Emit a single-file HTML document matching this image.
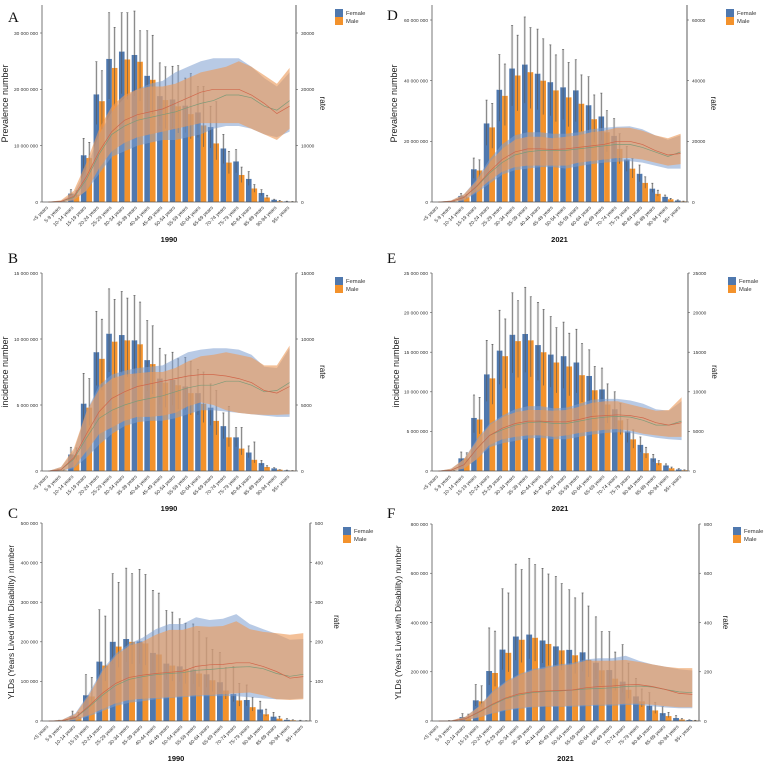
<!DOCTYPE html>
<html><head><meta charset="utf-8"><style>
html,body{margin:0;padding:0;background:#fff;}
svg{display:block;font-family:"Liberation Sans",Arial,sans-serif;}
</style></head><body>
<svg id="chart" width="767" height="767" viewBox="0 0 767 767" xmlns="http://www.w3.org/2000/svg"></svg>
<script>
const categories=["<5 years","5-9 years","10-14 years","15-19 years","20-24 years","25-29 years","30-34 years","35-39 years","40-44 years","45-49 years","50-54 years","55-59 years","60-64 years","65-69 years","70-74 years","75-79 years","80-84 years","85-89 years","90-94 years","95+ years"];
// Panel A (millions / thousands)
const aFemale=[0,0.05,1.5,8.3,19.1,25.4,26.7,26.1,22.4,18.8,18.2,17.1,15.9,13.3,9.5,7.2,4.1,1.6,0.4,0.1];
const aMale=[0,0.05,1.3,7.8,17.9,23.8,25.3,24.9,21.7,18.1,17.0,15.6,13.6,10.4,7.0,4.8,2.4,0.8,0.15,0.05];
const aFemaleUp=[0,0.1,2.2,11.3,24.9,33.6,33.6,33.9,30.4,24.7,24.1,22.0,20.5,17.0,12.0,9.3,5.4,2.2,0.5,0.15];
const aMaleUp=[0,0.1,2.0,10.6,23.3,31.0,33.6,30.4,29.6,24.0,24.2,22.8,20.5,17.8,9.0,6.2,3.1,1.2,0.3,0.1];
const aRateFLo=[0,0,0.3,2,5,8,9,10,10.5,11,11,11.5,12,13,13.5,13.5,13,12,11.5,12.5];
const aRateFHi=[0,0.2,1.5,6,12,16,18.5,20,21,21.5,23,24,25,25.5,25.5,25.5,24,22,20.5,23];
const aRateMLo=[0,0,0.3,2,6,9,10.5,11.5,12,12.5,13,13.5,14,14,14,14,13,12,11,13];
const aRateMHi=[0,0.3,2,7,13,17,19,20,20.5,20.5,21,22,23,23.5,24,25,24,22.5,21,23.8];
const aRateF=[0,0.1,0.8,4,8.5,12,13.5,14.5,15,15.5,16,16.8,17.5,18,19,19,18.5,17,16.3,18];
const aRateM=[0,0.1,1,4.5,9,12.5,14.5,15.5,16,16.5,17.5,18.5,19.5,20,20,20,19,17.5,15.7,17];
// Panel B
const bFemale=[0,0.05,1.25,5.1,9,10.4,10.3,9.9,8.4,7,6.9,6.4,5.9,4.8,3.4,2.55,1.4,0.6,0.2,0.05];
const bMale=[0,0.05,1.2,4.8,8.5,9.8,9.9,9.6,8.1,6.7,6.5,5.9,5.1,3.8,2.55,1.7,0.85,0.3,0.1,0.03];
const bFemaleUp=[0,0.1,1.8,7.4,12.1,13.8,13.6,13.3,11.4,9.3,9,8.6,7.7,6.6,4.4,3.3,1.9,0.8,0.25,0.07];
const bMaleUp=[0,0.1,1.75,7,11.5,13,13.1,12.8,11,8.8,8.5,8.3,7.5,6.1,4.9,3.3,2.2,0.4,0.1,0.04];
const bRateFLo=[0,0,0.2,1,2,2.8,3.4,3.7,3.8,3.8,4,4.3,4.6,4.6,4.5,4.4,4.3,4.2,4.1,4.1];
const bRateFHi=[0,0.3,1.5,4.5,6.5,7.3,7.6,7.8,7.9,8,8.5,9,9.2,9.3,9.3,9.2,8.8,7.9,7.8,9.3];
const bRateMLo=[0,0,0.3,1.5,2.8,3.3,3.8,4.1,4.1,4.2,4.4,4.9,5.2,5,4.6,4.4,4.3,4.25,4.25,4.3];
const bRateMHi=[0,0.3,1.7,4.5,6.2,7,7.3,7.4,7.5,7.5,7.8,8.3,8.7,8.8,9,8.8,8.6,8,8,9.5];
const bRateF=[0,0.1,0.9,2.5,4,4.6,5,5.3,5.5,5.7,6,6.3,6.5,6.5,6.8,6.8,6.5,6,6.1,6.7];
const bRateM=[0,0.1,1,2.8,4.5,5.5,6,6.4,6.6,6.8,7,7.2,7.3,7.3,7.2,7,6.7,6.1,5.9,6.4];
// Panel C (thousands / rate)
const cFemale=[0,1,12,65,150,200,207,201,172,145,138,130,118,98,68,53,29,11,3,1];
const cMale=[0,1,10,62,140,188,200,196,168,140,131,120,103,77,52,35,17,6,2,0.5];
const cFemaleUp=[0,2,25,117,281,372,386,383,330,279,258,245,210,173,138,91,50,22,6,2];
const cMaleUp=[0,2,22,110,265,350,372,370,323,275,247,226,181,135,95,60,30,12,3,1];
const cRateFLo=[0,0,2,12,25,38,46,50,55,58,60,62,63,63,63,60,57,55,55,57];
const cRateFHi=[0,3,20,70,130,170,195,210,232,245,245,262,255,258,270,245,232,220,205,207];
const cRateMLo=[0,0,3,15,30,45,53,56,58,60,62,65,66,68,70,72,65,55,53,55];
const cRateMHi=[0,3,18,65,125,165,190,200,218,230,230,240,238,240,252,232,225,222,218,222];
const cRateF=[0,1,8,35,65,90,105,112,117,120,122,128,130,133,136,137,132,120,113,118];
const cRateM=[0,1,9,38,70,95,110,116,120,123,126,138,142,143,147,147,138,125,108,112];
// Panel D
const dFemale=[0,0.1,2,10.8,25.9,37,44,45.3,42.3,39.5,37.8,36.8,31.9,28.2,21.8,14,9.3,4.4,1.7,0.5];
const dMale=[0,0.1,1.6,10.4,24.6,35,41.7,42.8,40,36.8,34.5,32.4,27.3,23,17.5,11,6.3,2.7,0.9,0.2];
const dFemaleUp=[0,0.2,2.8,14.5,33.6,48.6,58.2,61,57,51.8,50.3,46.9,41.3,35.9,27.5,18.3,12.2,6.2,2.3,0.7];
const dMaleUp=[0,0.2,2.5,13.9,32.5,45.5,55,57.5,53.8,48.5,46,41.9,35.3,30.1,22.5,14.3,8.3,3.9,1.2,0.3];
const dRateFLo=[0,0,0.5,3,6,9,10.5,11,11.5,11.5,11,11.8,12.5,13,13.3,13.5,13,12,11,11];
const dRateFHi=[0,0.5,2.5,7.5,14,19,22,23,23,22.5,22.5,23,24,24.5,24.8,25,24,22,20.5,22];
const dRateMLo=[0,0,0.6,3.5,7,10,11.5,12,12,12,12,13,13.5,14,14.5,14.5,14,13,12,12.5];
const dRateMHi=[0,0.5,2.5,7,13,17.5,20.5,21.5,21.5,21,21.5,22,23,23.5,24.5,24.5,23.5,22,21,22.5];
const dRateF=[0,0.2,1.5,5,9.5,13,15.5,16.5,17,17,17,17.5,18,18.5,19,19,18,16.5,15,16.5];
const dRateM=[0,0.2,1.5,5.2,10,14,16.5,17.5,17.5,17.3,17.5,18,18.5,19,20,20,19,17,15.5,16];
// Panel E
const eFemale=[0,0.05,1.6,6.7,12.2,15.2,17.2,17.3,15.9,14.7,14.5,13.7,12,10.3,7.8,5,3.3,1.6,0.7,0.2];
const eMale=[0,0.05,1.6,6.5,11.7,14.5,16.4,16.5,15,13.7,13.2,12.1,10.2,8.4,6.4,4,2.25,1,0.35,0.1];
const eFemaleUp=[0,0.1,2.4,9.6,16.5,20.3,22.5,23.2,21.3,19.5,18.8,17.9,15.3,13,10,6.5,4.3,2.1,0.9,0.3];
const eMaleUp=[0,0.1,2.3,9.3,16,19.2,21.5,22,20.4,18.1,17.4,16.1,13.2,11,8.5,5.2,3,1.3,0.5,0.15];
const eRateFLo=[0,0,0.3,1.5,3,3.5,3.8,4.1,4.2,4,4,4.3,4.6,4.8,4.9,4.8,4.5,4.2,4,3.9];
const eRateFHi=[0,0.3,1.5,4,6,7,7.8,8.2,8.2,7.9,8,8.5,9,9.1,9.1,8.9,8.5,7.8,7.6,8.8];
const eRateMLo=[0,0,0.3,1.5,3.3,4,4.3,4.5,4.5,4.3,4.5,4.8,5,5.2,5.3,5.1,4.7,4.5,4.3,4.3];
const eRateMHi=[0,0.3,1.5,3.8,5.8,6.8,7.4,7.7,7.7,7.6,7.7,8.1,8.6,8.8,8.8,8.4,8,7.6,7.7,9.3];
const eRateF=[0,0.1,0.8,2.8,4.5,5.2,5.8,6.1,6.2,6,6,6.3,6.6,6.8,6.9,6.8,6.4,5.8,5.8,6.3];
const eRateM=[0,0.1,0.8,2.8,4.5,5.4,6,6.3,6.3,6.2,6.2,6.5,6.9,7,7.1,7,6.7,6.1,5.8,6.1];
// Panel F
const fFemale=[0,1,16,84,203,290,343,351,327,303,289,279,237,207,160,100,62,32,12,4];
const fMale=[0,1,15,80,195,277,330,338,313,287,267,248,206,172,127,80,43,20,6,2];
const fFemaleUp=[0,2,30,148,378,537,637,660,620,587,533,520,423,363,310,173,115,58,22,5];
const fMaleUp=[0,2,28,143,365,520,615,635,597,558,500,467,363,280,235,130,75,35,10,3];
const fRateFLo=[0,0,3,14,30,42,50,55,58,58,58,60,62,62,65,65,60,55,52,52];
const fRateFHi=[0,3,18,60,120,160,190,210,220,230,235,250,255,255,265,245,230,220,210,205];
const fRateMLo=[0,0,3,15,32,45,53,58,60,60,62,64,66,67,70,70,66,60,56,56];
const fRateMHi=[0,3,17,58,115,155,185,205,215,225,230,245,245,245,248,240,230,220,215,215];
const fRateF=[0,1,9,35,65,90,105,115,120,122,125,130,132,135,140,142,138,128,118,115];
const fRateM=[0,1,9,37,68,93,110,118,122,124,126,135,140,142,147,148,140,128,112,108];

const leftTicksA=["0","10 000 000","20 000 000","30 000 000"], rightTicksA=["0","10000","20000","30000"];
const leftTicksB=["0","5 000 000","10 000 000","15 000 000"], rightTicksB=["0","5000","10000","15000"];
const leftTicksC=["0","100 000","200 000","300 000","400 000","500 000"], rightTicksC=["0","100","200","300","400","500"];
const leftTicksD=["0","20 000 000","40 000 000","60 000 000"], rightTicksD=["0","20000","40000","60000"];
const leftTicksE=["0","5 000 000","10 000 000","15 000 000","20 000 000","25 000 000"], rightTicksE=["0","5000","10000","15000","20000","25000"];
const leftTicksF=["0","200 000","400 000","600 000","800 000"], rightTicksF=["0","200","400","600","800"];

const NS="http://www.w3.org/2000/svg";
const svg=document.getElementById('chart');
function mk(tag,attrs,parent){const e=document.createElementNS(NS,tag);for(const k in attrs)e.setAttribute(k,attrs[k]);(parent||svg).appendChild(e);return e;}

const panels=[
 {id:'a',letter:'A',L:42,R:296,y0:202,topVal:30,topY:33,axTop:5,step:10,female:aFemale,male:aMale,fUp:aFemaleUp,mUp:aMaleUp,fLo:aRateFLo,fHi:aRateFHi,mLo:aRateMLo,mHi:aRateMHi,fMid:aRateF,mMid:aRateM,lt:leftTicksA,rt:rightTicksA,title:'Prevalence number',year:'1990',legX:335,legY:9,lx:8,ly:22,tx:8},
 {id:'b',letter:'B',L:42,R:296,y0:471,topVal:15,topY:273,axTop:273,step:5,female:bFemale,male:bMale,fUp:bFemaleUp,mUp:bMaleUp,fLo:bRateFLo,fHi:bRateFHi,mLo:bRateMLo,mHi:bRateMHi,fMid:bRateF,mMid:bRateM,lt:leftTicksB,rt:rightTicksB,title:'incidence number',year:'1990',legX:335,legY:277,lx:8,ly:263,tx:8},
 {id:'c',letter:'C',L:42,R:310,y0:721,topVal:500,topY:523,axTop:523,step:100,female:cFemale,male:cMale,fUp:cFemaleUp,mUp:cMaleUp,fLo:cRateFLo,fHi:cRateFHi,mLo:cRateMLo,mHi:cRateMHi,fMid:cRateF,mMid:cRateM,lt:leftTicksC,rt:rightTicksC,title:'YLDs (Years Lived with Disability) number',year:'1990',legX:343,legY:527,lx:8,ly:518,tx:14},
 {id:'d',letter:'D',L:432,R:687,y0:202,topVal:60,topY:20,axTop:5,step:20,female:dFemale,male:dMale,fUp:dFemaleUp,mUp:dMaleUp,fLo:dRateFLo,fHi:dRateFHi,mLo:dRateMLo,mHi:dRateMHi,fMid:dRateF,mMid:dRateM,lt:leftTicksD,rt:rightTicksD,title:'Prevalence number',year:'2021',legX:726,legY:9,lx:387,ly:20,tx:397},
 {id:'e',letter:'E',L:432,R:688,y0:471,topVal:25,topY:273,axTop:273,step:5,female:eFemale,male:eMale,fUp:eFemaleUp,mUp:eMaleUp,fLo:eRateFLo,fHi:eRateFHi,mLo:eRateMLo,mHi:eRateMHi,fMid:eRateF,mMid:eRateM,lt:leftTicksE,rt:rightTicksE,title:'incidence number',year:'2021',legX:728,legY:277,lx:387,ly:263,tx:399},
 {id:'f',letter:'F',L:432,R:699,y0:721,topVal:800,topY:524,axTop:524,step:200,female:fFemale,male:fMale,fUp:fFemaleUp,mUp:fMaleUp,fLo:fRateFLo,fHi:fRateFHi,mLo:fRateMLo,mHi:fRateMHi,fMid:fRateF,mMid:fRateM,lt:leftTicksF,rt:rightTicksF,title:'YLDs (Years Lived with Disability) number',year:'2021',legX:733,legY:527,lx:387,ly:518,tx:401}
];

function drawPanel(p){
 const g=mk('g',{});
 
 
 const bw=(p.R-p.L)/categories.length;
 const xc=i=>p.L+bw*(i+0.5);
 const ys=v=>p.y0-(p.y0-p.topY)*v/p.topVal;
 categories.forEach((c,i)=>{
  const w=bw*0.44;
  const fb=mk('rect',{x:xc(i)-w,y:ys(p.female[i]),width:w,height:p.y0-ys(p.female[i]),fill:'#4f78ae'},g);
  
  
  const mb=mk('rect',{x:xc(i),y:ys(p.male[i]),width:w,height:p.y0-ys(p.male[i]),fill:'#f3922c'},g);
  
  
 });
 categories.forEach((c,i)=>{
  [[p.female,p.fUp,xc(i)-bw*0.22],[p.male,p.mUp,xc(i)+bw*0.22]].forEach(([v,u,x])=>{
   if(u[i]<=0.001)return;
   const top=ys(u[i]), bot=ys(v[i]*0.72);
   mk('rect',{x:x-1.2,y:top,width:2.4,height:ys(v[i])-top,fill:'#d8d8d8',opacity:0.85},g);
   const l=mk('line',{x1:x,x2:x,y1:top,y2:bot,stroke:'#555','stroke-width':0.6},g);
   
   
   mk('line',{x1:x-1,x2:x+1,y1:top,y2:top,stroke:'#555','stroke-width':0.6},g);
  });
 });
 function band(lo,hi,fill,op,name){
  let d='';
  for(let i=0;i<categories.length;i++)d+=(i?'L':'M')+xc(i).toFixed(1)+','+ys(hi[i]).toFixed(1);
  for(let i=categories.length-1;i>=0;i--)d+='L'+xc(i).toFixed(1)+','+ys(lo[i]).toFixed(1);
  const b=mk('path',{d:d+'Z',fill:fill,'fill-opacity':op},g);
  
  
 }
 band(p.fLo,p.fHi,'#7d9fd0',0.55,'rate-band-female');
 band(p.mLo,p.mHi,'#eb9a58',0.62,'rate-band-male');
 function line(arr,col,name){
  let d='';arr.forEach((v,i)=>d+=(i?'L':'M')+xc(i).toFixed(1)+','+ys(v).toFixed(1));
  const l=mk('path',{d:d,fill:'none',stroke:col,'stroke-width':0.7},g);
  
  
 }
 line(p.fMid,'#7f9a78','rate-line-female');
 line(p.mMid,'#d0664a','rate-line-male');
 const la=mk('line',{x1:p.L,x2:p.L,y1:p.axTop,y2:p.y0,stroke:'#555','stroke-width':0.8},g);
 
 const ra=mk('line',{x1:p.R,x2:p.R,y1:p.axTop,y2:p.y0,stroke:'#777','stroke-width':1.2},g);
 
 const xa=mk('line',{x1:p.L,x2:p.R,y1:p.y0,y2:p.y0,stroke:'#555','stroke-width':0.8},g);
 
 p.lt.forEach((t,i)=>{
  const y=ys(i*p.step);
  mk('line',{x1:p.L-2,x2:p.L,y1:y,y2:y,stroke:'#555','stroke-width':0.6},g);
  const tx=mk('text',{x:p.L-4,y:y+1.8,'font-size':4.8,'text-anchor':'end',fill:'#333'},g);
  tx.textContent=t;
  
  mk('line',{x1:p.R,x2:p.R+2,y1:y,y2:y,stroke:'#555','stroke-width':0.6},g);
  const rt=mk('text',{x:p.R+5,y:y+1.8,'font-size':4.8,fill:'#333'},g);
  rt.textContent=p.rt[i];
  
 });
 categories.forEach((c,i)=>{
  const x=xc(i), y=p.y0+6;
  const t=mk('text',{x:x,y:y,'font-size':5,'text-anchor':'end',fill:'#333',transform:`rotate(-45 ${x} ${y})`},g);
  t.textContent=c;
  
 });
 const yt=mk('text',{x:p.tx,y:(p.y0+p.axTop)/2,'font-size':p.id==='c'||p.id==='f'?8.3:9,'text-anchor':'middle',fill:'#222',transform:`rotate(-90 ${p.tx} ${(p.y0+p.axTop)/2})`},g);
 yt.textContent=p.title;
 
 const rx=p.R+24, ry=(p.y0+p.axTop)/2;
 const rtt=mk('text',{x:rx,y:ry,'font-size':8,'text-anchor':'middle',fill:'#222',transform:`rotate(90 ${rx} ${ry})`},g);
 rtt.textContent='rate';
 
 const xt=mk('text',{x:(p.L+p.R)/2,y:p.y0+40,'font-size':7.5,'font-weight':'bold','text-anchor':'middle',fill:'#111'},g);
 xt.textContent=p.year;
 
 const lt=mk('text',{x:p.lx,y:p.ly,'font-size':15,'font-family':'Liberation Serif, serif',fill:'#111'},g);
 lt.textContent=p.letter;
 
 [['Female','#4f78ae'],['Male','#f3922c']].forEach(([n,col],k)=>{
  const r=mk('rect',{x:p.legX,y:p.legY+k*8,width:8,height:8,fill:col},g);
  
  const t=mk('text',{x:p.legX+11,y:p.legY+k*8+6,'font-size':5.8,fill:'#333'},g);
  t.textContent=n;
  
 });
}
panels.forEach(drawPanel);
</script>
</body></html>
